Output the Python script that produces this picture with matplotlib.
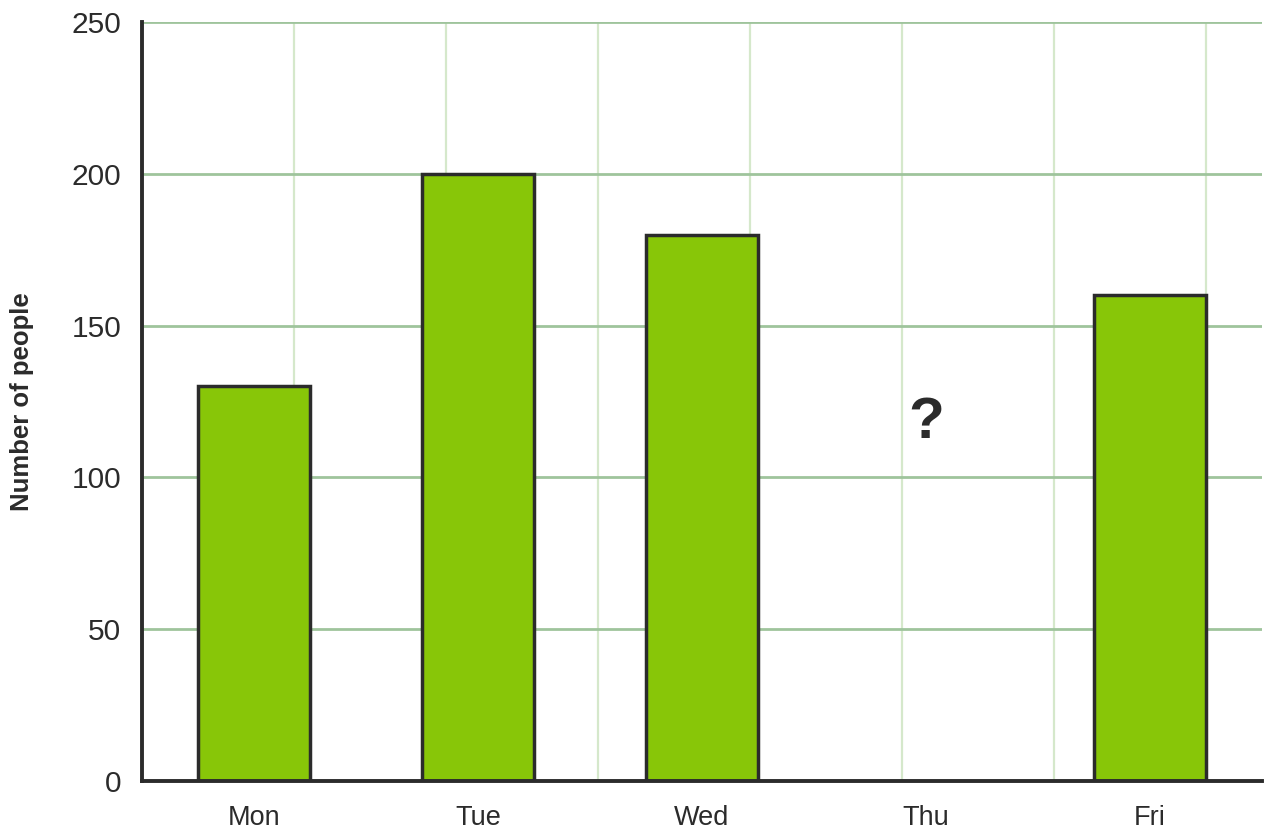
import matplotlib

matplotlib.use("Agg")

import matplotlib.pyplot as plt
import numpy as np

plt.rcParams["font.family"] = ["Liberation Sans", "DejaVu Sans"]

INK = "#2b2b2b"
BAR = "#88c608"
GRID_H = "#9fc49c"
GRID_V = "#d5e8cb"

days = ["Mon", "Tue", "Wed", "Thu", "Fri"]
people = [130, 200, 180, None, 160]
unknown_day = "Thu"
unknown_label = "?"
unknown_level = 118
y_ticks = [0, 50, 100, 150, 200, 250]

figure = plt.figure(figsize=(12.72, 8.36), dpi=100, facecolor="white")
axis = figure.add_axes([142 / 1272, 55 / 836, 1120 / 1272, 759 / 836])

positions = np.arange(len(days))
shown = [(pos, val) for pos, val in zip(positions, people) if val is not None]
axis.bar(
    [pos for pos, _ in shown],
    [val for _, val in shown],
    width=0.5,
    color=BAR,
    edgecolor=INK,
    linewidth=2.5,
    zorder=3,
)

axis.text(
    days.index(unknown_day),
    unknown_level,
    unknown_label,
    ha="center",
    va="center",
    fontsize=42,
    fontweight="bold",
    color=INK,
    zorder=4,
)

axis.set_xlim(-0.5, len(days) - 0.5)
axis.set_ylim(0, 250)
axis.set_xticks(positions)
axis.set_xticklabels(days)
axis.set_yticks(y_ticks)

# vertical grid runs on its own spacing, not on the categories
for gx in np.arange(-0.5 + 152 / 224, len(days) - 0.5, 152 / 224):
    axis.axvline(gx, color=GRID_V, linewidth=1.6, zorder=1)
for gy in y_ticks[1:]:
    axis.axhline(gy, color=GRID_H, linewidth=2.0, zorder=1)

axis.spines[["top", "right"]].set_visible(False)
axis.spines[["left", "bottom"]].set_color(INK)
axis.spines[["left", "bottom"]].set_linewidth(2.8)
axis.spines[["left", "bottom"]].set_zorder(5)
axis.tick_params(axis="y", length=0, pad=15, labelsize=21.5, colors=INK)
axis.tick_params(axis="x", length=0, pad=17, labelsize=19.5, colors=INK)

axis.set_ylabel("Number of people", fontsize=18.5, fontweight="bold", color=INK)
axis.yaxis.set_label_coords(-108 / 1120, 0.5)

figure.savefig("out.png", dpi=100, facecolor="white")
